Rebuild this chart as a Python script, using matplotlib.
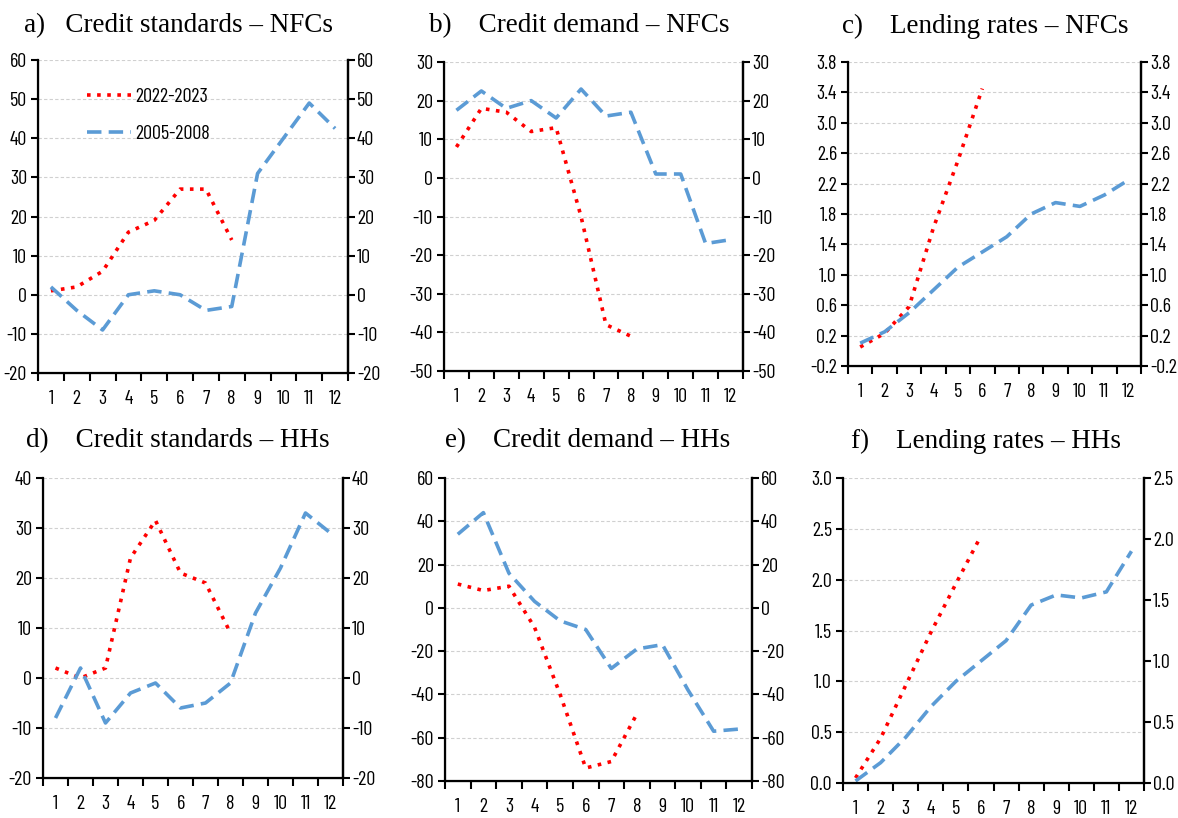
#!/usr/bin/env python3

import numpy as np
import matplotlib
matplotlib.use('Agg')
import matplotlib.pyplot as plt
from matplotlib.ticker import FormatStrFormatter

quarters = list(range(1, 13))
quarter_labels = [str(q) for q in quarters]

titles = ['a)   Credit standards – NFCs', 'b)    Credit demand – NFCs', 'c)    Lending rates – NFCs',
          'd)    Credit standards – HHs', 'e)    Credit demand – HHs', 'f)    Lending rates – HHs']

# 2022-2023 (red dotted)
recent_a = [1, 2, 6, 16, 19, 27, 27, 14]
recent_b = [8, 18, 17, 12, 13, -10, -38, -41]
recent_c = [0.05, 0.23, 0.58, 1.62, 2.5, 3.45]
recent_d = [2, 0, 2, 24, 31.5, 21, 19, 9]
recent_e = [11, 8, 10, -9, -40, -74, -71, -49]
recent_f = [0.05, 0.44, 0.96, 1.48, 1.96, 2.43]

# 2005-2008 (blue dashed)
past_a = [2, -4, -9, 0, 1, 0, -4, -3, 31, 40, 49, 42.5]
past_b = [17.5, 22.5, 18, 20, 15.5, 23, 16, 17, 1, 1, -17, -16]
past_c = [0.1, 0.25, 0.5, 0.8, 1.1, 1.3, 1.5, 1.8, 1.95, 1.9, 2.05, 2.25]
past_d = [-8, 2, -9, -3, -1, -6, -5, -1, 13, 22, 33, 29]
past_e = [34, 44, 16, 3, -6, -10, -28, -19, -17, -38, -57, -56]
past_f = [0.02, 0.2, 0.45, 0.75, 1.0, 1.2, 1.4, 1.75, 1.85, 1.82, 1.88, 2.28]

recent = [recent_a, recent_b, recent_c, recent_d, recent_e, recent_f]
past = [past_a, past_b, past_c, past_d, past_e, past_f]

# y ranges: (min, max, step, fmt, right-axis range)
yaxes = [(-20, 60, 10, '%d', None),
         (-50, 30, 10, '%d', None),
         (-0.2, 3.8, 0.4, '%.1f', None),
         (-20, 40, 10, '%d', None),
         (-80, 60, 20, '%d', None),
         (0.0, 3.0, 0.5, '%.1f', (0.0, 2.5, 0.5))]

# axes boxes in pixels: left, right, top, bottom
boxes = [(38, 348, 60, 373), (444, 743, 62, 371), (848, 1141, 62, 366),
         (43, 343, 478, 778), (445, 752, 478, 781), (843, 1144, 478, 783)]
# title centres in pixels
title_pos = [(179, 26), (579, 26), (985, 26), (178, 441), (588, 441), (986, 441)]

W, H = 1178, 818
fig = plt.figure(figsize=(W / 100, H / 100), dpi=100)

tick_font = ['Barlow Condensed', 'Carlito', 'DejaVu Sans']
tick_size = 14.5
red = '#FF0000'
blue = '#5B9BD5'

for i in range(6):
	l, r, t, b = boxes[i]
	ax = fig.add_axes([l / W, 1 - b / H, (r - l) / W, (b - t) / H])
	ymin, ymax, step, fmt, right = yaxes[i]
	ticks = np.arange(ymin, ymax + step / 2, step)

	ax.plot(quarters[:len(recent[i])], recent[i], color=red, linestyle=(0, (1, 1.8)), linewidth=2.6, label='2022-2023')
	ax.plot(quarters, past[i], color=blue, linestyle=(0, (4, 2)), linewidth=2.6, label='2005-2008')

	ax.set_xlim(0.5, 12.5)
	ax.set_ylim(ymin, ymax)
	ax.set_yticks(ticks)
	ax.yaxis.set_major_formatter(FormatStrFormatter(fmt))
	for y in ticks[1:]:
		ax.axhline(y, color='#D0D0D0', linestyle=(0, (3, 2)), linewidth=0.8, zorder=0)

	ax.set_xticks(np.arange(0.5, 13, 1))
	ax.set_xticklabels([])
	ax.set_xticks(quarters, minor=True)
	ax.set_xticklabels(quarter_labels, minor=True, family=tick_font, fontsize=tick_size)
	ax.tick_params(axis='x', which='major', direction='out', length=6, width=1.5)
	ax.tick_params(axis='x', which='minor', length=0, pad=12)
	ax.tick_params(axis='y', direction='out', length=5, width=1.5, labelsize=tick_size, pad=3)
	for lbl in ax.get_yticklabels():
		lbl.set_family(tick_font)

	ax.spines['top'].set_visible(False)
	for s in ['left', 'right', 'bottom']:
		ax.spines[s].set_linewidth(1.6)

	ax2 = ax.twinx()
	if right is None:
		ax2.set_ylim(ymin, ymax)
		ax2.set_yticks(ticks)
	else:
		ax2.set_ylim(right[0], right[1])
		ax2.set_yticks(np.arange(right[0], right[1] + right[2] / 2, right[2]))
	ax2.yaxis.set_major_formatter(FormatStrFormatter(fmt))
	ax2.tick_params(axis='y', direction='out', length=5, width=1.5, labelsize=tick_size, pad=1.5)
	for lbl in ax2.get_yticklabels():
		lbl.set_family(tick_font)
	ax2.spines['top'].set_visible(False)
	ax2.spines['right'].set_linewidth(1.6)

	tx, ty = title_pos[i]
	fig.text(tx / W, 1 - ty / H, titles[i], family='Liberation Serif', fontsize=19.5, ha='center', va='center')

	if i == 0:
		ax.legend(loc='upper left', bbox_to_anchor=(0.1, 0.97), frameon=False, handlelength=2.2,
		          labelspacing=0.95, prop={'family': tick_font, 'size': tick_size}, handletextpad=0.2)

plt.savefig('out.png', dpi=100)
plt.close()
